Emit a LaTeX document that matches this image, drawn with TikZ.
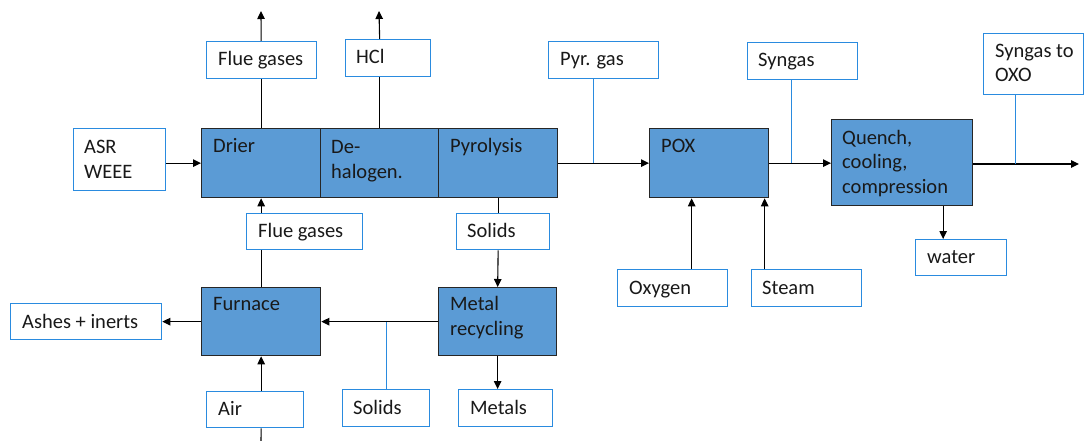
\documentclass[tikz,border=0pt]{standalone}
\usepackage{fontspec}
\setmainfont{Carlito}
\usetikzlibrary{arrows.meta,calc}
\definecolor{procfill}{HTML}{5B9BD5}
\definecolor{procedge}{HTML}{262626}
\definecolor{tagblue}{HTML}{2A8BDF}
\tikzset{
  proc/.style={draw=procedge, fill=procfill, line width=1.3pt, inner sep=0pt, anchor=north west},
  tagbox/.style={draw=tagblue, fill=white, line width=1.3pt, inner sep=0pt, anchor=north west},
  % the base of a multi-line node is its last line, so those are placed by that line
  txt/.style={anchor=base west, inner sep=0pt, align=left, text=black!90, font=\fontsize{20.5}{24.5}\selectfont},
  flow/.style={line width=1.1pt, -{Triangle[length=8pt,width=7.5pt]}},
  plain/.style={line width=1.1pt},
  tagline/.style={draw=tagblue, line width=1.3pt},
}
\begin{document}
\begin{tikzpicture}[x=1pt, y=-1pt]
\useasboundingbox (0,0) rectangle (1084,441);

% process units
\node[proc, minimum width=119pt, minimum height=69pt] (drier) at (201,128) {};
\node[proc, minimum width=118pt, minimum height=69pt] (dehal) at (320,128) {};
\node[proc, minimum width=119pt, minimum height=69pt] (pyro)  at (438,128) {};
\node[proc, minimum width=119pt, minimum height=69pt] (pox)   at (649,128) {};
\node[proc, minimum width=141pt, minimum height=86pt] (quench) at (831,119) {};
\node[proc, minimum width=119pt, minimum height=68pt] (furnace) at (201,287) {};
\node[proc, minimum width=118pt, minimum height=68pt] (metal) at (438,287) {};

\node[txt] (drier-t)   at ([shift={(12,25)}]drier.north west) {Drier};
\node[txt] (dehal-t)   at ([shift={(11,50)}]dehal.north west) {De-\\halogen.};
\node[txt] (pyro-t)    at ([shift={(12,25)}]pyro.north west) {Pyrolysis};
\node[txt] (pox-t)     at ([shift={(12,25)}]pox.north west) {POX};
\node[txt] (quench-t)  at ([shift={(11,74)}]quench.north west) {Quench,\\cooling,\\compression};
\node[txt] (furnace-t) at ([shift={(12,23)}]furnace.north west) {Furnace};
\node[txt] (metal-t)   at ([shift={(12,48)}]metal.north west) {Metal\\recycling};

% stream tags
\node[tagbox, minimum width=92pt,  minimum height=62pt] (asr)      at (73,128) {};
\node[tagbox, minimum width=110pt, minimum height=37pt] (fluetop)  at (206,41) {};
\node[tagbox, minimum width=85pt,  minimum height=37pt] (hcl)      at (345,39) {};
\node[tagbox, minimum width=110pt, minimum height=37pt] (pyrgas)   at (548,41) {};
\node[tagbox, minimum width=110pt, minimum height=37pt] (syngas)   at (747,42) {};
\node[tagbox, minimum width=100pt, minimum height=61pt] (oxo)      at (983,33) {};
\node[tagbox, minimum width=116pt, minimum height=36pt] (fluelow)  at (246,213) {};
\node[tagbox, minimum width=93pt,  minimum height=36pt] (solidsup) at (456,213) {};
\node[tagbox, minimum width=110pt, minimum height=37pt] (oxygen)   at (617,269) {};
\node[tagbox, minimum width=110pt, minimum height=37pt] (steam)    at (751,269) {};
\node[tagbox, minimum width=91pt,  minimum height=36pt] (water)    at (915,239) {};
\node[tagbox, minimum width=151pt, minimum height=36pt] (ashes)    at (10,303) {};
\node[tagbox, minimum width=97pt,  minimum height=36pt] (air)      at (206,391) {};
\node[tagbox, minimum width=87pt,  minimum height=37pt] (solidslow) at (342,389) {};
\node[tagbox, minimum width=94pt,  minimum height=37pt] (metals)   at (458,389) {};

\node[txt] (asr-t)       at ([shift={(11,50)}]asr.north west) {ASR\\WEEE};
\node[txt] (fluetop-t)   at ([shift={(12,25)}]fluetop.north west) {Flue gases};
\node[txt] (hcl-t)       at ([shift={(11,25)}]hcl.north west) {HCl};
\node[txt] (pyrgas-t)    at ([shift={(12,25)}]pyrgas.north west) {Pyr. gas};
\node[txt] (syngas-t)    at ([shift={(11,25)}]syngas.north west) {Syngas};
\node[txt] (oxo-t)       at ([shift={(12,49)}]oxo.north west) {Syngas to\\OXO};
\node[txt] (fluelow-t)   at ([shift={(12,24)}]fluelow.north west) {Flue gases};
\node[txt] (solidsup-t)  at ([shift={(11,24)}]solidsup.north west) {Solids};
\node[txt] (oxygen-t)    at ([shift={(12,25)}]oxygen.north west) {Oxygen};
\node[txt] (steam-t)     at ([shift={(11,25)}]steam.north west) {Steam};
\node[txt] (water-t)     at ([shift={(12,24)}]water.north west) {water};
\node[txt] (ashes-t)     at ([shift={(12,25)}]ashes.north west) {Ashes + inerts};
\node[txt] (air-t)       at ([shift={(12,24)}]air.north west) {Air};
\node[txt] (solidslow-t) at ([shift={(11,25)}]solidslow.north west) {Solids};
\node[txt] (metals-t)    at ([shift={(12,25)}]metals.north west) {Metals};

% free ends of the streams leaving the plant
\coordinate (flueout) at (261,11);
\coordinate (hclout)  at (379,11);
\coordinate (oxoout)  at (1079,164);
\coordinate (airin)   at (261,441);

% main gas line
\draw[flow] (asr.east |- drier.west) -- (drier.west);
\draw[flow] (pyro.east) -- (pox.west);
\draw[flow] (pox.east) -- (pox.east -| quench.west);
\draw[flow] (quench.east |- oxoout) -- (oxoout);

% tags on the gas line
\draw[tagline] ([xshift=-10pt]pyrgas.south) -- ([xshift=-10pt]pyrgas.south |- pyro.east);
\draw[tagline] ([xshift=-11pt]syngas.south) -- ([xshift=-11pt]syngas.south |- pox.east);
\draw[tagline] ([xshift=-18pt]oxo.south) -- ([xshift=-18pt]oxo.south |- oxoout);

% vents from the drier and the dehalogenation
\draw[plain] (drier.north) -- (drier.north |- fluetop.south);
\draw[flow] (drier.north |- fluetop.north) -- (flueout);
\draw[plain] (dehal.north) -- (dehal.north |- hcl.south);
\draw[flow] (dehal.north |- hcl.north) -- (hclout);

% POX feeds
\draw[flow] ([xshift=19pt]oxygen.north) -- ([xshift=19pt]oxygen.north |- pox.south);
\draw[flow] ([xshift=-42pt]steam.north) -- ([xshift=-42pt]steam.north |- pox.south);

% quench water
\draw[flow] ([xshift=-18pt]water.north |- quench.south) -- ([xshift=-18pt]water.north);

% furnace loop
\draw[plain] (furnace.north) -- (furnace.north |- fluelow.south);
\draw[flow] (furnace.north |- fluelow.north) -- (drier.south);
\draw[plain] (pyro.south) -- (pyro.south |- solidsup.north);
\draw[flow] (pyro.south |- solidsup.south) -- (metal.north);
\draw[flow] (metal.west) -- (furnace.east);
\draw[tagline] (solidslow.north) -- (solidslow.north |- metal.west);
\draw[flow] (furnace.west) -- (ashes.east);
\draw[flow] (furnace.south |- air.north) -- (furnace.south);
\draw[plain] (airin) -- (furnace.south |- air.south);
\draw[flow] (metal.south) -- (metal.south |- metals.north);
\end{tikzpicture}
\end{document}
